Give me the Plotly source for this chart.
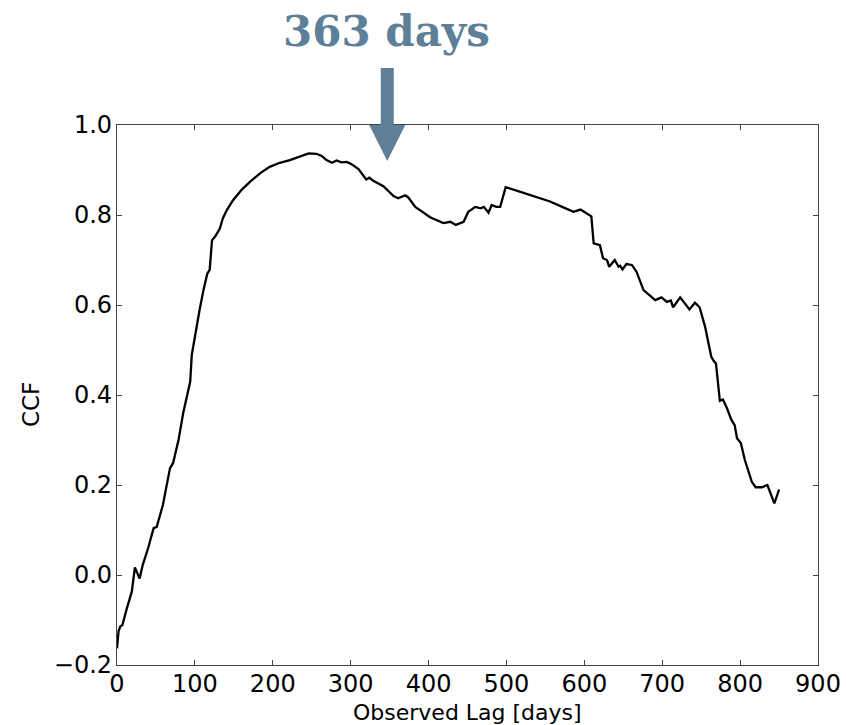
import plotly.graph_objects as go

lag = [0, 2, 4, 7, 12, 19, 23, 29, 33, 40, 47, 51, 59, 68, 72, 79, 85, 90, 94, 96, 102,
       106, 111, 116, 119, 122, 126, 132, 136, 141, 149, 160, 171, 184, 196, 209, 222,
       235, 246, 256, 263, 269, 276, 282, 288, 295, 301, 310, 320, 324, 329, 342, 355,
       361, 370, 374, 383, 402, 419, 428, 435, 445, 451, 460, 467, 471, 477, 481, 487,
       492, 499, 513, 539, 556, 573, 586, 595, 609, 612, 620, 624, 629, 632, 639, 644,
       646, 649, 654, 661, 667, 676, 691, 699, 706, 711, 714, 723, 735, 742, 748, 755,
       763, 766, 769, 774, 778, 783, 789, 793, 796, 801, 806, 815, 820, 828, 835, 844, 850]
ccf = [-0.163, -0.125, -0.115, -0.111, -0.078, -0.037, 0.017, -0.008, 0.022, 0.060, 0.104,
       0.107, 0.156, 0.237, 0.249, 0.300, 0.360, 0.400, 0.430, 0.489, 0.552, 0.589, 0.633,
       0.670, 0.678, 0.744, 0.752, 0.770, 0.793, 0.811, 0.833, 0.856, 0.874, 0.893, 0.907,
       0.916, 0.922, 0.931, 0.937, 0.936, 0.931, 0.922, 0.916, 0.921, 0.917, 0.918, 0.913,
       0.902, 0.879, 0.883, 0.876, 0.864, 0.842, 0.837, 0.844, 0.839, 0.818, 0.795, 0.782,
       0.785, 0.778, 0.785, 0.807, 0.818, 0.815, 0.818, 0.805, 0.822, 0.818, 0.818, 0.862,
       0.854, 0.839, 0.830, 0.817, 0.807, 0.812, 0.797, 0.737, 0.733, 0.704, 0.700, 0.685,
       0.700, 0.685, 0.687, 0.679, 0.691, 0.689, 0.674, 0.633, 0.611, 0.617, 0.607, 0.610,
       0.595, 0.617, 0.590, 0.605, 0.595, 0.552, 0.485, 0.476, 0.470, 0.387, 0.390, 0.371,
       0.344, 0.333, 0.304, 0.293, 0.256, 0.207, 0.195, 0.195, 0.200, 0.159, 0.190]

x_ticks = [0, 100, 200, 300, 400, 500, 600, 700, 800, 900]
y_ticks = [-0.2, 0.0, 0.2, 0.4, 0.6, 0.8, 1.0]
x_range = [0, 900]
y_range = [-0.2, 1.0]

x_title = "Observed Lag [days]"
y_title = "CCF"
annot_text = "363 days"
arrow_lag = 347
arrow_ccf = 0.92
arrow_color = "#5e7f98"

ML, MR, MT, MB = 117, 28, 125, 60
W, H = 846, 725
plot_w, plot_h = W - ML - MR, H - MT - MB


def px_to_paper(px, py):
    return (px - ML) / plot_w, (H - MB - py) / plot_h


fig = go.Figure()
fig.add_trace(go.Scatter(x=lag, y=ccf, mode="lines",
                         line=dict(color="black", width=2.3), showlegend=False))

axis_common = dict(showgrid=False, zeroline=False, showline=True, linecolor="#444",
                   linewidth=1.3, mirror="ticks", ticks="inside", ticklen=5,
                   tickcolor="#444", tickwidth=1, automargin=False,
                   tickfont=dict(family="DejaVu Sans", size=24, color="black"))

fig.update_xaxes(range=x_range, tickvals=x_ticks, ticktext=[str(v) for v in x_ticks],
                 ticklabelstandoff=-3, **axis_common)
fig.update_yaxes(range=y_range, tickvals=y_ticks,
                 ticktext=[("\u2212" if v < 0 else "") + f"{abs(v):.1f}" for v in y_ticks],
                 ticklabelstandoff=-1, **axis_common)

# axis titles
tx, ty = px_to_paper(467.5, 712)
fig.add_annotation(text=x_title, xref="paper", yref="paper", x=tx, y=ty,
                   xanchor="center", yanchor="middle", showarrow=False,
                   font=dict(family="DejaVu Sans", size=22, color="black"))
tx, ty = px_to_paper(31, 405)
fig.add_annotation(text=y_title, xref="paper", yref="paper", x=tx, y=ty, textangle=-90,
                   xanchor="center", yanchor="middle", showarrow=False,
                   font=dict(family="DejaVu Sans", size=23, color="black"))

# arrow geometry in paper coordinates derived from data target
tip_x = (arrow_lag - x_range[0]) / (x_range[1] - x_range[0])
tip_y = (arrow_ccf - y_range[0]) / (y_range[1] - y_range[0])
head_h = 36 / plot_h
head_hw = 18 / plot_w
shaft_hw = 6.5 / plot_w
shaft_top = tip_y + 93 / plot_h
head_base = tip_y + head_h

fig.add_shape(type="rect", xref="paper", yref="paper",
              x0=tip_x - shaft_hw, x1=tip_x + shaft_hw, y0=head_base - 0.004, y1=shaft_top,
              fillcolor=arrow_color, line=dict(width=0))
fig.add_shape(type="path", xref="paper", yref="paper",
              path=f"M {tip_x - head_hw} {head_base} L {tip_x + head_hw} {head_base} L {tip_x} {tip_y} Z",
              fillcolor=arrow_color, line=dict(width=0))

ax_, ay_ = px_to_paper(386, 31)
fig.add_annotation(text=f"<b>{annot_text}</b>", xref="paper", yref="paper",
                   x=ax_, y=ay_, xanchor="center", yanchor="middle", showarrow=False,
                   font=dict(family="DejaVu Serif", size=42, color=arrow_color))

fig.update_layout(width=W, height=H, margin=dict(l=ML, r=MR, t=MT, b=MB),
                  plot_bgcolor="white", paper_bgcolor="white")

fig.write_html("out.html")
